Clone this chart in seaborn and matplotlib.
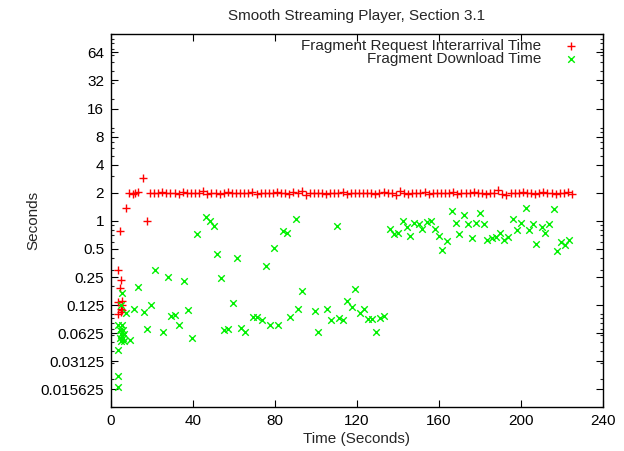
import matplotlib
matplotlib.use("Agg")
import matplotlib.pyplot as plt
import matplotlib.ticker as mticker
import seaborn as sns
import pandas as pd

# ---------------- data ----------------
title = "Smooth Streaming Player, Section 3.1"
x_label = "Time (Seconds)"
y_label = "Seconds"
series_names = ["Fragment Request Interarrival Time", "Fragment Download Time"]

x_ticks = [0, 40, 80, 120, 160, 200, 240]
y_ticks = [0.015625, 0.03125, 0.0625, 0.125, 0.25, 0.5, 1, 2, 4, 8, 16, 32, 64]
y_tick_labels = ["0.015625", "0.03125", "0.0625", "0.125", "0.25", "0.5",
                 "1", "2", "4", "8", "16", "32", "64"]

req_time = [3.4, 3.4, 3.5, 4.4, 4.5, 5.0, 5.1, 5.2, 5.0, 4.8, 5.5, 7.2,
            8.9, 10.5, 11.5, 13.3, 15.8, 17.4,
            19, 21, 23, 25, 27, 29, 31, 33, 35, 37, 39, 41, 43, 45, 47, 49,
            51, 53, 55, 57, 59, 61, 63, 65, 67, 69, 71, 73, 75, 77, 79, 81,
            83, 85, 87, 89, 91, 93, 95, 97, 99, 101, 103, 105, 107, 109, 111,
            113, 115, 117, 119, 121, 123, 125, 127, 129, 131, 133, 135, 137,
            139, 141, 143, 145, 147, 149, 151, 153, 155, 157, 159, 161, 163,
            165, 167, 169, 171, 173, 175, 177, 179, 181, 183, 185, 187, 189,
            191, 193, 195, 197, 199, 201, 203, 205, 207, 209, 211, 213, 215,
            217, 219, 221, 223, 225]
req_interarrival = [0.30, 0.135, 0.10, 0.78, 0.19, 0.23, 0.14, 0.125, 0.115,
                    0.105, 0.11, 1.36,
                    2.0, 1.95, 1.97, 2.02, 2.9, 1.0,
                    2.0, 2.0, 1.98, 2.02, 1.97, 2.0, 2.0, 1.96, 2.02, 1.98,
                    2.0, 2.0, 1.97, 2.08, 1.96, 2.0, 1.98, 1.96, 2.0, 2.02,
                    1.98, 1.97, 2.0, 2.0, 1.98, 2.02, 1.96, 2.0, 1.97, 2.0,
                    1.98, 2.02, 1.98, 2.0, 1.96, 2.02, 1.98, 2.1, 1.88, 2.0,
                    2.0, 1.98, 2.0, 1.96, 2.0, 2.0, 1.98, 2.02, 1.96, 2.0,
                    1.98, 2.0, 1.97, 1.98, 2.0, 1.96, 2.0, 2.02, 1.98, 2.0,
                    1.88, 2.1, 1.98, 1.96, 2.0, 2.0, 1.98, 2.02, 1.96, 1.98,
                    2.0, 1.97, 2.0, 1.98, 2.02, 1.96, 2.0, 1.98, 2.0, 2.05,
                    1.97, 2.0, 1.96, 1.98, 2.0, 2.15, 1.92, 1.9, 1.98, 2.0,
                    1.97, 2.02, 1.98, 2.0, 1.96, 2.0, 2.02, 1.98, 2.0, 1.96,
                    2.0, 1.98, 2.02, 1.94]

dl_time = [3.3, 3.3, 3.6, 3.6, 4.4, 4.4, 4.7, 4.9, 5.5, 6.0, 6.3, 6.0, 6.5,
           4.9, 5.2, 7.5, 9.3, 11.3, 13.3, 16.2, 17.4, 19.5, 21.3, 25.2,
           27.6, 29.4, 31.2, 33.0, 35.4, 37.5, 39.4, 42.1, 46.3, 48.2, 50.0,
           51.5, 53.5, 55.1, 57.2, 59.4, 61.7, 63.3, 65.4, 69.1, 71.1, 73.5,
           75.6, 77.4, 79.6, 81.3, 84.1, 86.0, 87.2, 90.2, 91.4, 93.3, 99.5,
           101.1, 105.2, 107.2, 110.1, 111.2, 113.3, 115.0, 117.4, 119.3,
           121.5, 123.4, 125.5, 127.2, 129.3, 131.2, 133.3, 136.1, 138.0,
           140.1, 142.3, 144.2, 145.9, 148.1, 150.2, 152.0, 154.2, 156.0,
           158.0, 159.9, 161.5, 163.8, 166.2, 168.2, 169.9, 172.3, 174.2,
           176.0, 178.3, 180.3, 182.0, 183.7, 185.7, 187.7, 189.8, 191.9,
           193.8, 196.0, 197.9, 200.0, 202.3, 204.0, 206.0, 207.6, 210.1,
           211.9, 213.8, 216.3, 217.5, 219.6, 221.5, 223.6]
dl_duration = [0.0167, 0.0218, 0.041, 0.076, 0.068, 0.055, 0.061, 0.051,
               0.076, 0.068, 0.061, 0.055, 0.052, 0.125, 0.17, 0.103, 0.053,
               0.113, 0.196, 0.105, 0.070, 0.126, 0.30, 0.065, 0.25, 0.096,
               0.098, 0.076, 0.227, 0.112, 0.056, 0.72, 1.09, 1.0, 0.88, 0.44,
               0.245, 0.068, 0.070, 0.131, 0.40, 0.071, 0.064, 0.093, 0.094,
               0.086, 0.33, 0.076, 0.51, 0.076, 0.78, 0.75, 0.094, 1.06,
               0.113, 0.177, 0.109, 0.064, 0.113, 0.087, 0.88, 0.09, 0.086,
               0.139, 0.12, 0.187, 0.104, 0.113, 0.088, 0.088, 0.064, 0.09,
               0.096, 0.81, 0.72, 0.74, 1.0, 0.87, 0.69, 0.95, 0.93, 0.81,
               0.97, 1.0, 0.81, 0.69, 0.49, 0.61, 1.27, 0.96, 0.72, 1.17,
               0.93, 0.65, 0.95, 1.2, 0.93, 0.63, 0.65, 0.67, 0.74, 0.63,
               0.68, 1.04, 0.79, 0.95, 1.38, 0.80, 0.93, 0.57, 0.86, 0.74,
               0.92, 1.33, 0.48, 0.60, 0.55, 0.62]

# ---------------- plot ----------------
sns.set_style("ticks")
plt.rcParams["font.family"] = ["Liberation Sans", "DejaVu Sans"]
plt.rcParams["font.size"] = 11

req_df = pd.DataFrame({"t": req_time, "v": req_interarrival})
dl_df = pd.DataFrame({"t": dl_time, "v": dl_duration})

fig = plt.figure(figsize=(6.24, 4.51), dpi=100)
ax = fig.add_axes([0.178, 0.0965, 0.788, 0.8275])

sns.scatterplot(data=req_df, x="t", y="v", marker="+", color="#ff0000",
                s=30, linewidth=1.0, ax=ax, label=series_names[0], legend=False)
sns.scatterplot(data=dl_df, x="t", y="v", marker="x", color="#00f000",
                s=22, linewidth=1.0, ax=ax, label=series_names[1], legend=False)

ax.set_yscale("log")
ax.set_xlim(0, 240)
ax.set_ylim(0.01, 100)
ax.set_xticks(x_ticks)
ax.set_xticklabels([str(v) for v in x_ticks])
ax.yaxis.set_major_locator(mticker.FixedLocator(y_ticks))
ax.yaxis.set_major_formatter(mticker.FixedFormatter(y_tick_labels))
ax.yaxis.set_minor_locator(mticker.LogLocator(base=10, subs=range(1, 10)))
ax.yaxis.set_minor_formatter(mticker.NullFormatter())

ax.tick_params(axis="both", which="major", direction="in", length=5,
               width=0.8, top=True, right=True, labelsize=11, colors="black",
               pad=5)
ax.tick_params(axis="both", which="minor", direction="in", length=2.5,
               width=0.8, top=True, right=True)
for sp in ax.spines.values():
    sp.set_visible(True)
    sp.set_color("black")
    sp.set_linewidth(1.0)

ax.set_xlabel(x_label, fontsize=11, labelpad=2.5)
ax.set_ylabel(y_label, fontsize=11, labelpad=0)
ax.set_title(title, fontsize=11, pad=10)

# gnuplot-style key: right-aligned text, sample on the right
handles, labels = ax.get_legend_handles_labels()
leg1 = ax.legend([handles[0]], [labels[0]], loc="upper right",
                 bbox_to_anchor=(0.978, 1.012), frameon=False,
                 markerfirst=False, fontsize=11, handletextpad=1.2,
                 borderaxespad=0.2, handlelength=1.5)
ax.add_artist(leg1)
ax.legend([handles[1]], [labels[1]], loc="upper right",
          bbox_to_anchor=(0.978, 0.977), frameon=False, markerfirst=False,
          fontsize=11, handletextpad=1.2, borderaxespad=0.2, handlelength=1.5)

fig.savefig("out.png", dpi=100)
